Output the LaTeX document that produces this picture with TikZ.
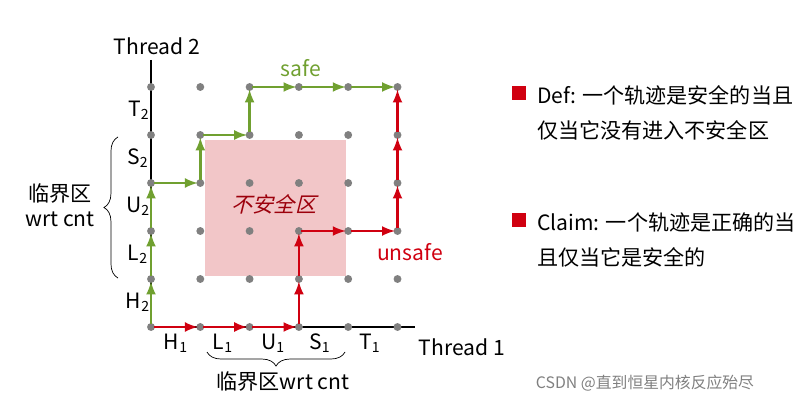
\documentclass[tikz,border=0pt]{standalone}
\usepackage{fontspec}
\setmainfont{Noto Sans CJK SC}
\usepackage{tikz}
\usetikzlibrary{decorations.pathreplacing}
\definecolor{safegreen}{HTML}{70A030}
\definecolor{unsred}{HTML}{D00010}
\definecolor{zonepink}{HTML}{F2C6C8}
\tikzset{
  dot/.style={circle, fill=gray, inner sep=0pt, minimum size=4.5pt},
  safeseg/.style={safegreen, line width=1.5pt, -latex, shorten >=-1pt, shorten <=-1pt},
  unsseg/.style={unsred, line width=1.5pt, -latex, shorten >=-1pt, shorten <=-1pt},
  lbl/.style={font=\fontsize{12}{14}\selectfont}
}
\begin{document}
\begin{tikzpicture}[x=0.02cm, y=-0.02cm]
  \useasboundingbox (0,0) rectangle (800,405);
  % unsafe zone
  \fill[zonepink] (205,140) rectangle (346,276);
  \node[lbl, text=unsred!75!black, xslant=0.25, transform shape] (zone) at (276,204) {不安全区};
  % axes
  \coordinate (ytop) at (151,60);
  \coordinate (xend) at (415,327);
  \coordinate (orig) at (151,327);
  \draw[line width=0.6pt] (ytop) -- (orig) -- (xend);
  % grid of dots
  \foreach \i in {0,...,5}
    \foreach \j in {0,...,5}
      \node[dot] (p\i\j) at (151+49.3*\i, 327-48*\j) {};
  % safe trajectory
  \draw[safeseg] (p00) -- (p01);
  \draw[safeseg] (p01) -- (p02);
  \draw[safeseg] (p02) -- (p03);
  \draw[safeseg] (p03) -- (p13);
  \draw[safeseg] (p13) -- (p14);
  \draw[safeseg] (p14) -- (p24);
  \draw[safeseg] (p24) -- (p25);
  \draw[safeseg] (p25) -- (p35);
  \draw[safeseg] (p35) -- (p45);
  \draw[safeseg] (p45) -- (p55);
  % unsafe trajectory
  \draw[unsseg] (p00) -- (p10);
  \draw[unsseg] (p10) -- (p20);
  \draw[unsseg] (p20) -- (p30);
  \draw[unsseg] (p30) -- (p31);
  \draw[unsseg] (p31) -- (p32);
  \draw[unsseg] (p32) -- (p42);
  \draw[unsseg] (p42) -- (p52);
  \draw[unsseg] (p52) -- (p53);
  \draw[unsseg] (p53) -- (p54);
  \draw[unsseg] (p54) -- (p55);
  \node[lbl, safegreen] (safe) at (301,68) {safe};
  \node[lbl, unsred] (unsafe) at (410,252) {unsafe};
  % axis labels
  \node[lbl] (th2) at (157,46) {Thread 2};
  \node[lbl] (th1) at (462,347) {Thread 1};
  \node[lbl] (T2) at (139,110) {T\textsubscript{2}};
  \node[lbl] (S2) at (138,158) {S\textsubscript{2}};
  \node[lbl] (U2) at (138,206) {U\textsubscript{2}};
  \node[lbl] (L2) at (138,254) {L\textsubscript{2}};
  \node[lbl] (H2) at (138,302) {H\textsubscript{2}};
  \node[lbl] (H1) at (176,343) {H\textsubscript{1}};
  \node[lbl] (L1) at (223,343) {L\textsubscript{1}};
  \node[lbl] (U1) at (273,343) {U\textsubscript{1}};
  \node[lbl] (S1) at (320,343) {S\textsubscript{1}};
  \node[lbl] (T1) at (370,343) {T\textsubscript{1}};
  % critical sections
  \draw[decorate, decoration={brace, amplitude=8pt}, thin] (118,278) -- (118,137);
  \node[lbl, align=center] (crit2) at (60,205) {临界区\\wrt cnt};
  \draw[decorate, decoration={brace, amplitude=8pt}, thin] (345,352) -- (207,352);
  \node[lbl] (crit1) at (283,381) {临界区wrt cnt};
  % claims
  \node[fill=unsred, minimum size=8pt, inner sep=0pt] (b1) at (519,93) {};
  \node[lbl, anchor=west] (def1) at (531,95) {Def: 一个轨迹是安全的当且};
  \node[lbl, anchor=west] (def2) at (531,130) {仅当它没有进入不安全区};
  \node[fill=unsred, minimum size=8pt, inner sep=0pt] (b2) at (519,220) {};
  \node[lbl, anchor=west] (cl1) at (531,222) {Claim: 一个轨迹是正确的当};
  \node[lbl, anchor=west] (cl2) at (531,257) {且仅当它是安全的};
  \node[gray, font=\fontsize{9}{11}\selectfont] (mark) at (645,383) {CSDN @直到恒星内核反应殆尽};
\end{tikzpicture}
\end{document}
